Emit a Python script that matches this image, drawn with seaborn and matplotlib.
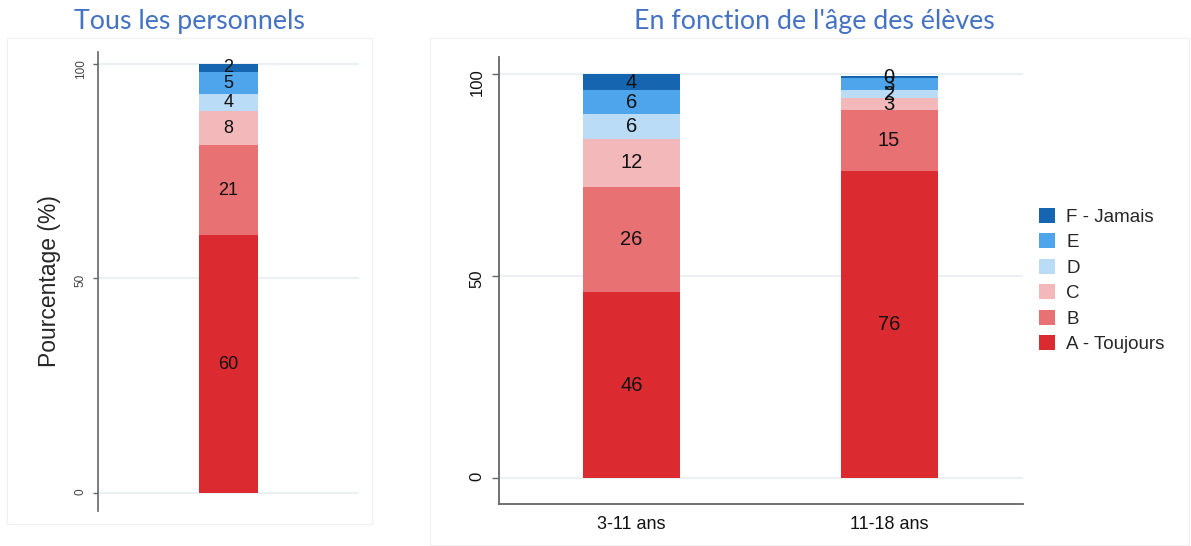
import pandas as pd
import seaborn as sns
import matplotlib.pyplot as plt
from matplotlib.patches import Patch, Rectangle

# niveaux de réponse (du bas vers le haut de la barre)
niveaux = ["A - Toujours", "B", "C", "D", "E", "F - Jamais"]
couleurs = ["#dc2b30", "#e87173", "#f2b8ba", "#badcf7", "#4ea5ec", "#1565b0"]

# Tous les personnels
groupe_tous = ["Tous"]
tous = [60, 21, 8, 4, 5, 2]

# En fonction de l'âge des élèves
groupes_age = ["3-11 ans", "11-18 ans"]
age_3_11 = [46, 26, 12, 6, 6, 4]
age_11_18 = [76, 15, 3, 2, 3, 0.4]

W, H = 1191, 546


def make_df(groupes, series):
    rows = []
    for g, vals in zip(groupes, series):
        cumul = 0
        for niv, v in zip(niveaux, vals):
            cumul += v
            rows.append({"groupe": g, "niveau": niv, "valeur": v, "cumul": cumul})
    return pd.DataFrame(rows)


def draw_stack(ax, df, order, width, fs):
    # on dessine les cumuls du plus haut au plus bas pour empiler
    for niv, col in reversed(list(zip(niveaux, couleurs))):
        sub = df[df["niveau"] == niv]
        sns.barplot(data=sub, x="groupe", y="cumul", order=order, color=col,
                    saturation=1, width=width, errorbar=None, ax=ax,
                    edgecolor="none")
    for i, g in enumerate(order):
        sub = df[df["groupe"] == g]
        for _, r in sub.iterrows():
            ax.text(i, r["cumul"] - r["valeur"] / 2, f"{r['valeur']:.0f}",
                    ha="center", va="center", fontsize=fs, color="#111111")


sns.set_style("white")
plt.rcParams["font.family"] = ["Liberation Sans", "DejaVu Sans"]

fig = plt.figure(figsize=(W / 100, H / 100), dpi=100)

# cadres clairs autour des deux panneaux
fig.add_artist(Rectangle((7 / W, 1 - 524 / H), 365 / W, 486 / H, transform=fig.transFigure,
                         fill=False, edgecolor="#f0f0f0", lw=0.8))
fig.add_artist(Rectangle((430 / W, 1 - 545 / H), 759 / W, 507 / H, transform=fig.transFigure,
                         fill=False, edgecolor="#f0f0f0", lw=0.8))

# panneau gauche
ax1 = fig.add_axes([98 / W, 1 - 511 / H, 261 / W, 459.5 / H])
df1 = make_df(groupe_tous, [tous])
draw_stack(ax1, df1, groupe_tous, 0.4, 13)
ax1.set_xlim(-0.885, 0.885)
ax1.set_ylim(-4.19, 102.84)
ax1.set_yticks([0, 50, 100])
ax1.set_xticks([])
ax1.set_xlabel("")
ax1.set_ylabel("Pourcentage (%)", fontsize=16.5)
ax1.yaxis.set_label_coords(-0.14, 0.5)
ax1.yaxis.grid(True, color="#eaf1f4", lw=1.5)
ax1.set_axisbelow(True)
for s in ["top", "right", "bottom"]:
    ax1.spines[s].set_visible(False)
ax1.spines["left"].set_color("#666666")
ax1.spines["left"].set_linewidth(1.2)
ax1.tick_params(axis="y", left=True, length=3.6, width=1, color="#666666",
                labelsize=8.5, labelcolor="#444444", labelrotation=90, pad=4.5)

# panneau droit
ax2 = fig.add_axes([498.7 / W, 1 - 503.7 / H, 524.3 / W, 447 / H])
df2 = make_df(groupes_age, [age_3_11, age_11_18])
draw_stack(ax2, df2, groupes_age, 0.377, 14.5)
ax2.set_xlim(-0.516, 1.52)
ax2.set_ylim(-6.36, 104.28)
ax2.set_yticks([0, 50, 100])
ax2.set_xlabel("")
ax2.set_ylabel("")
ax2.yaxis.grid(True, color="#eaf1f4", lw=1.5)
ax2.set_axisbelow(True)
for s in ["top", "right"]:
    ax2.spines[s].set_visible(False)
for s in ["left", "bottom"]:
    ax2.spines[s].set_color("#666666")
    ax2.spines[s].set_linewidth(1.3)
ax2.tick_params(axis="y", left=True, length=5, width=1, color="#666666",
                labelsize=12, labelcolor="#111111", labelrotation=90, pad=5)
ax2.tick_params(axis="x", bottom=False, length=0, labelsize=13, labelcolor="#111111", pad=9)

# titres
fig.text(189 / W, 1 - 21 / H, "Tous les personnels", ha="center", va="center",
         fontsize=19.3, color="#4472c4", family=["Lato", "DejaVu Sans"])
fig.text(814 / W, 1 - 21 / H, "En fonction de l'âge des élèves", ha="center", va="center",
         fontsize=19.3, color="#4472c4", family=["Lato", "DejaVu Sans"])

# légende
handles = [Patch(facecolor=c, edgecolor="none", label=n)
           for n, c in reversed(list(zip(niveaux, couleurs)))]
fig.legend(handles=handles, loc="upper left", bbox_to_anchor=(1039 / W, 1 - 208 / H),
           frameon=False, fontsize=13.5, handlelength=0.85, handleheight=0.85,
           handletextpad=0.59, labelspacing=0.4, borderpad=0, borderaxespad=0)

fig.savefig("out.png", dpi=100)
plt.close()
